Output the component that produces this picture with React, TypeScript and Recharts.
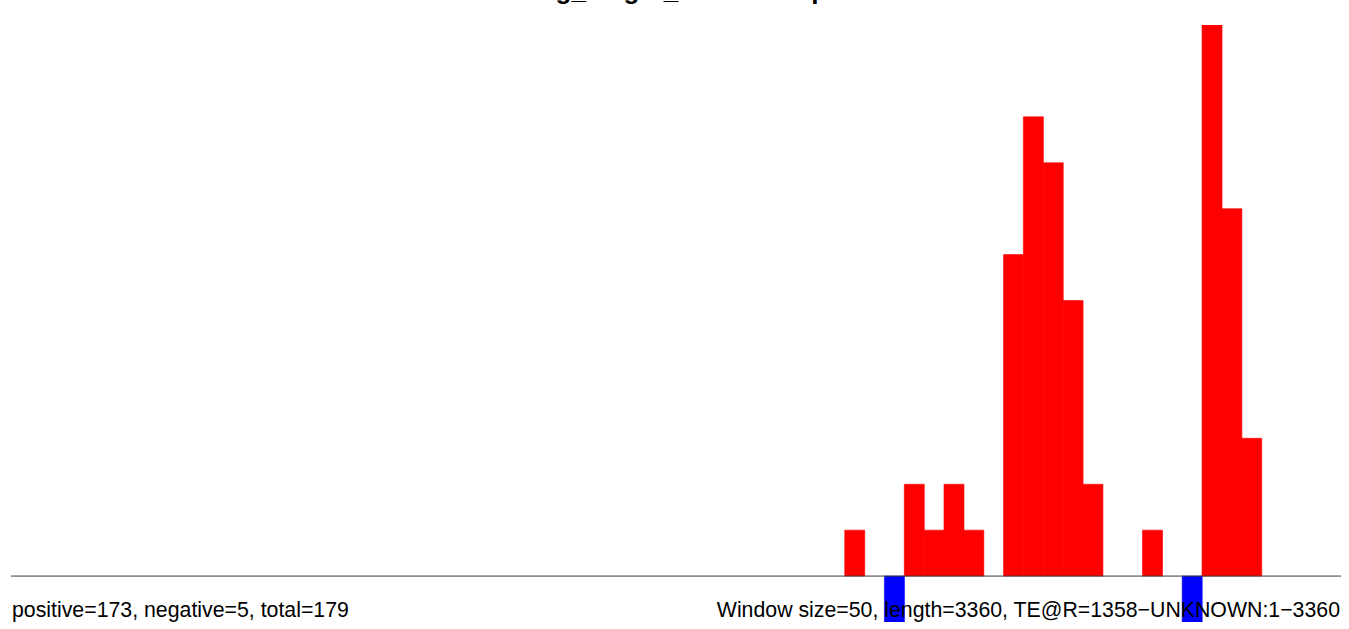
import React from "react";
import { ComposedChart, Bar, Cell, XAxis, YAxis, ReferenceLine } from "recharts";

// window starts (bp), window size 50 over length 3360
const windowStarts: number[] = [
  0, 50, 100, 150, 200, 250, 300, 350, 400, 450,
  500, 550, 600, 650, 700, 750, 800, 850, 900, 950,
  1000, 1050, 1100, 1150, 1200, 1250, 1300, 1350, 1400, 1450,
  1500, 1550, 1600, 1650, 1700, 1750, 1800, 1850, 1900, 1950,
  2000, 2050, 2100, 2150, 2200, 2250, 2300, 2350, 2400, 2450,
  2500, 2550, 2600, 2650, 2700, 2750, 2800, 2850, 2900, 2950,
  3000, 3050, 3100, 3150, 3200, 3250, 3300,
];

// read counts per window (positive strand up, negative strand down)
const counts: number[] = [
  0, 0, 0, 0, 0, 0, 0, 0, 0, 0,
  0, 0, 0, 0, 0, 0, 0, 0, 0, 0,
  0, 0, 0, 0, 0, 0, 0, 0, 0, 0,
  0, 0, 0, 0, 0, 0, 0, 0, 0, 0,
  0, 0, 1, 0, -1, 2, 1, 2, 1, 0,
  7, 10, 9, 6, 2, 0, 0, 1, 0, -1,
  12, 8, 3, 0, 0, 0, 0,
];

const yDomain: [number, number] = [-1, 12];

const titleText = "Contig_length_readcount plot";
const leftNote = "positive=173, negative=5, total=179";
const rightNote = "Window size=50, length=3360, TE@R=1358\u2212UNKNOWN:1\u22123360";

const data = windowStarts.map((s, i) => ({ start: s, v: counts[i] }));

export default function App() {
  return (
    <div style={{ position: "absolute", left: 0, top: 0, width: 1349, height: 629, background: "#fff" }}>
      <ComposedChart
        width={1349}
        height={629}
        data={data}
        margin={{ top: 25, right: 8, bottom: 7, left: 11 }}
        barCategoryGap={0}
        barGap={0}
      >
        <XAxis dataKey="start" hide />
        <YAxis hide domain={yDomain} allowDataOverflow />
        <Bar dataKey="v" isAnimationActive={false}>
          {data.map((d, i) => (
            <Cell
              key={i}
              fill={d.v < 0 ? "#0000ff" : "#ff0000"}
              stroke={d.v < 0 ? "#0000ff" : "#ff0000"}
              strokeWidth={d.v === 0 ? 0 : 0.6}
            />
          ))}
        </Bar>
        <ReferenceLine y={0} stroke="#3a3a3a" strokeWidth={1} ifOverflow="extendDomain" />
      </ComposedChart>
      <svg
        width={1349}
        height={629}
        style={{ position: "absolute", left: 0, top: 0, pointerEvents: "none" }}
      >
        <text
          x={674}
          y={-1}
          textAnchor="middle"
          fontFamily="Liberation Sans, Arial, sans-serif"
          fontWeight="bold"
          fontSize={26}
          fill="#000"
        >
          {titleText}
        </text>
        <text x={12} y={617} fontFamily="Liberation Sans, Arial, sans-serif" fontSize={21.3} fill="#000">
          {leftNote}
        </text>
        <text
          x={1340}
          y={617}
          textAnchor="end"
          fontFamily="Liberation Sans, Arial, sans-serif"
          fontSize={21.3}
          fill="#000"
        >
          {rightNote}
        </text>
      </svg>
    </div>
  );
}
